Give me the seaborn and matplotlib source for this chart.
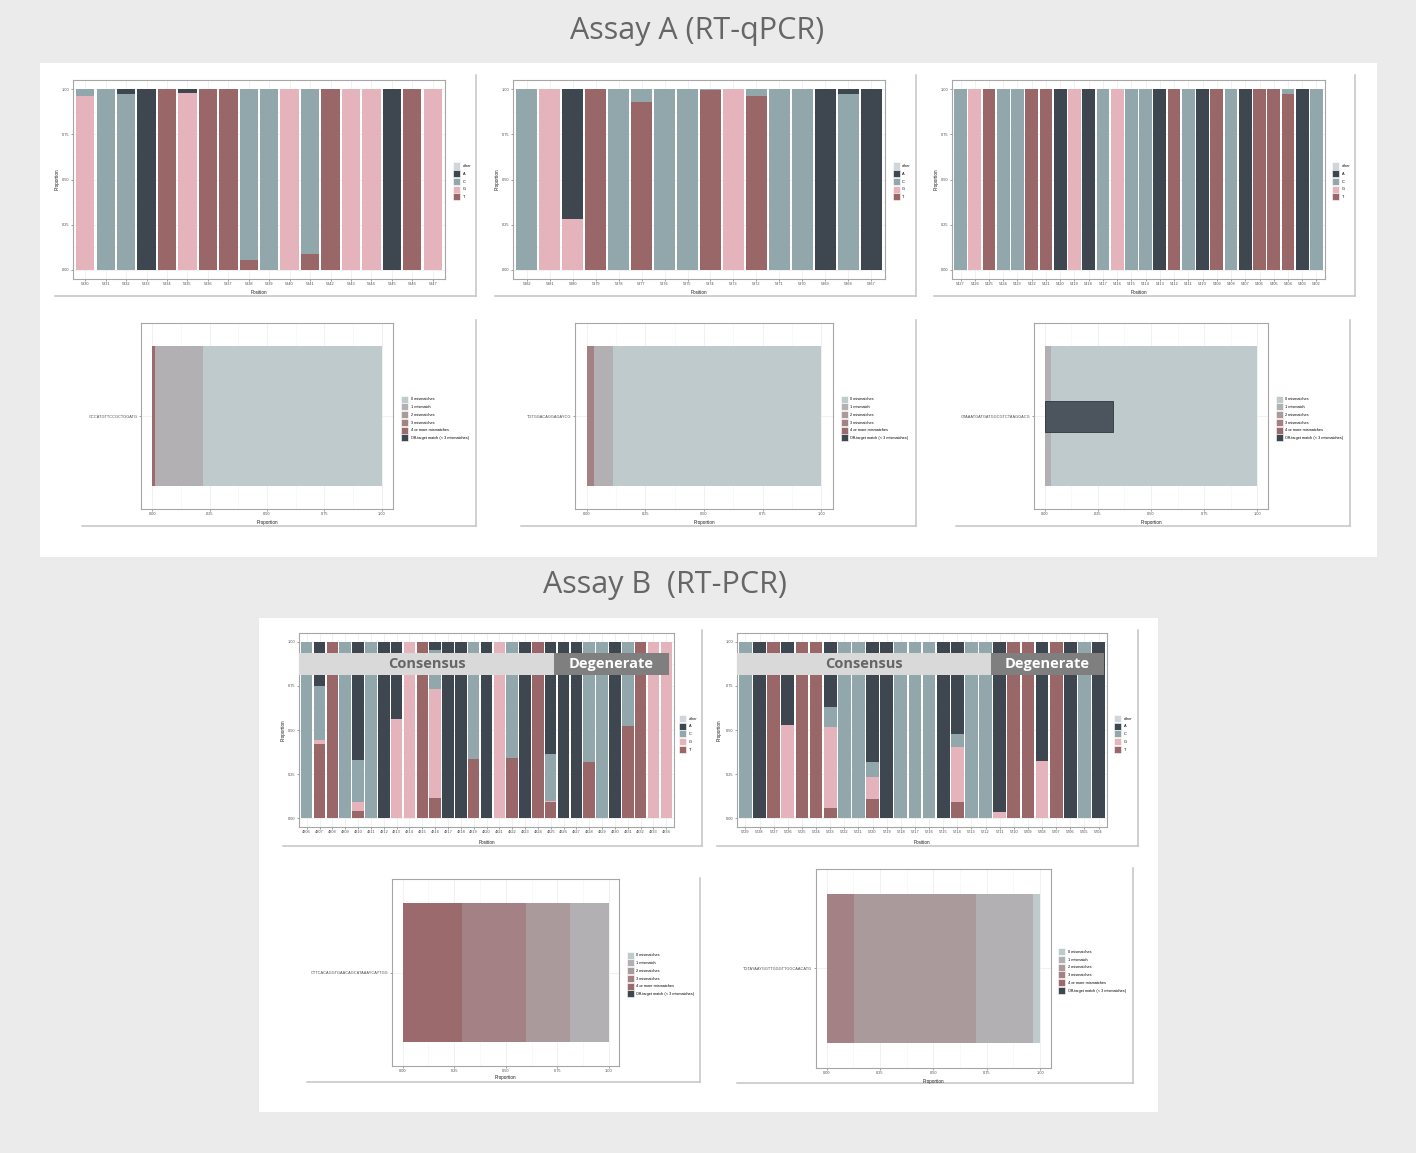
import matplotlib
matplotlib.use("Agg")
import matplotlib.pyplot as plt
from matplotlib.lines import Line2D
from matplotlib.patches import Patch, Rectangle
from matplotlib.ticker import FixedLocator
import numpy as np
import pandas as pd
import seaborn as sns

# ---------------- data ----------------
bases = ["other", "A", "C", "G", "T"]
base_colors = ["#d0d6da", "#3e4650", "#92a7ac", "#e4b3bc", "#9a6769"]

# Assay A, forward primer region
a1_pos = [str(p) for p in range(5330, 5348)]
a1_A = [0, 0, 0.03, 1, 0, 0.02, 0, 0, 0, 0, 0, 0, 0, 0, 0, 1, 0, 0]
a1_C = [0.04, 1, 0.97, 0, 0, 0, 0, 0, 0.945, 1, 0, 0.91, 0, 0, 0, 0, 0, 0]
a1_G = [0.96, 0, 0, 0, 0, 0.98, 0, 0, 0, 0, 1, 0, 0, 1, 1, 0, 0, 1]
a1_T = [0, 0, 0, 0, 1, 0, 1, 1, 0.055, 0, 0, 0.09, 1, 0, 0, 0, 1, 0]

# Assay A, reverse primer region
a2_pos = [str(p) for p in range(5382, 5366, -1)]
a2_A = [0, 0, 0.72, 0, 0, 0, 0, 0, 0, 0, 0, 0, 0, 1, 0.025, 1]
a2_C = [1, 0, 0, 0, 1, 0.07, 1, 1, 0.005, 0, 0.04, 1, 1, 0, 0.975, 0]
a2_G = [0, 1, 0.28, 0, 0, 0, 0, 0, 0, 1, 0, 0, 0, 0, 0, 0]
a2_T = [0, 0, 0, 1, 0, 0.93, 0, 0, 0.995, 0, 0.96, 0, 0, 0, 0, 0]

# Assay A, probe region
a3_pos = [str(p) for p in range(5427, 5401, -1)]
a3_A = [0, 0, 0, 0, 0, 0, 0, 1, 0, 1, 0, 0, 0, 0, 1, 0, 0, 1, 0, 0, 1, 0, 0, 0, 1, 0]
a3_C = [1, 0, 0, 1, 1, 0, 0, 0, 0, 0, 1, 0, 1, 1, 0, 0, 1, 0, 0, 1, 0, 0, 0, 0.025, 0, 1]
a3_G = [0, 1, 0, 0, 0, 0, 0, 0, 1, 0, 0, 1, 0, 0, 0, 0, 0, 0, 0, 0, 0, 0, 0, 0, 0, 0]
a3_T = [0, 0, 1, 0, 0, 1, 1, 0, 0, 0, 0, 0, 0, 0, 0, 1, 0, 0, 1, 0, 0, 1, 1, 0.975, 0, 0]

# Assay B, forward primer region
b1_pos = [str(p) for p in range(4806, 4835)]
b1_A = [0, .25, 0, 0, .67, 0, 1, .44, 0, 0, .045, 1, 1, 0, 1, 0, 0, 1, 0, .635, 1, 1, 0, 0, 1, 0, 0, 0, 0]
b1_C = [1, .305, 0, 1, .24, 1, 0, 0, 0, 0, .225, 0, 0, .665, 0, 0, .66, 0, 0, .265, 0, 0, .68, 1, 0, .48, 0, 0, 0]
b1_G = [0, .025, 0, 0, .05, 0, 0, .56, 1, 0, .615, 0, 0, 0, 0, 1, 0, 0, 0, .01, 0, 0, 0, 0, 0, 0, 0, 1, 1]
b1_T = [0, .42, 1, 0, .04, 0, 0, 0, 0, 1, .115, 0, 0, .335, 0, 0, .34, 0, 1, .09, 0, 0, .32, 0, 0, .52, 1, 0, 0]

# Assay B, reverse primer region
b2_pos = [str(p) for p in range(5729, 5703, -1)]
b2_A = [0, 1, 0, .47, 0, 0, .37, 0, 0, .68, 1, 0, 0, 0, 1, .525, 0, 0, .965, 0, 0, .675, 0, 1, 0, 1]
b2_C = [1, 0, 0, 0, 0, 0, .115, 1, 1, .085, 0, 1, 1, 1, 0, .07, 1, 1, 0, 0, 0, 0, 0, 0, 1, 0]
b2_G = [0, 0, 0, .53, 0, 0, .46, 0, 0, .125, 0, 0, 0, 0, 0, .315, 0, 0, .035, 0, 0, .325, 0, 0, 0, 0]
b2_T = [0, 0, 1, 0, 1, 1, .055, 0, 0, .11, 0, 0, 0, 0, 0, .09, 0, 0, 0, 1, 1, 0, 1, 0, 0, 0]

mm_levels = ["0 mismatches", "1 mismatch", "2 mismatches", "3 mismatches",
             "4 or more mismatches", "Off-target match (< 3 mismatches)"]
mm_colors = ["#bfcacd", "#b3b0b3", "#ab9a9b", "#a38184", "#9b6a6c", "#3e4650"]

a1_seq = "GCCATGTTCCGCTGGATG"
a1_mm = [0.78, 0.21, 0, 0, 0.01, 0]
a2_seq = "TGTGGACAGGAGAYCG"
a2_mm = [0.89, 0.08, 0, 0.03, 0, 0]
a3_seq = "GTAAATGATGATGGCGTCTAAGGACG"
a3_mm = [0.97, 0.03, 0, 0, 0, 0]
a3_offtarget = 0.32
b1_seq = "CTTCACAGGTGAACAGCATAAAYCAYTGG"
b1_mm = [0, 0.19, 0.21, 0.31, 0.29, 0]
b2_seq = "TGTAYAAYGGTTGGGTTGGCAACATG"
b2_mm = [0.035, 0.265, 0.57, 0.13, 0, 0]

# ---------------- layout helpers ----------------
W, H = 1416, 1153
plt.rcParams["font.family"] = ["Liberation Sans", "DejaVu Sans"]
fig = plt.figure(figsize=(W / 100, H / 100), dpi=100, facecolor="#ebebeb")

SMALL = 2.8
TICKC = "#4d4d4d"


def fx(x):
    return x / W


def fy(y):
    return 1 - y / H


def add_panel(x0, y0, x1, y1):
    ax = fig.add_axes([fx(x0), fy(y1), (x1 - x0) / W, (y1 - y0) / H])
    ax.set_facecolor("white")
    for s in ax.spines.values():
        s.set_color("#a6a6a6")
        s.set_linewidth(0.8)
    ax.tick_params(which="major", length=1.5, width=0.4, color="#555555",
                   labelsize=SMALL, labelcolor=TICKC, pad=1)
    ax.tick_params(which="minor", length=0)
    ax.set_axisbelow(True)
    return ax


def white_box(x0, y0, x1, y1):
    fig.add_artist(Rectangle((fx(x0), fy(y1)), (x1 - x0) / W, (y1 - y0) / H,
                             transform=fig.transFigure, facecolor="white",
                             edgecolor="none", zorder=-2))


def card(xr, ytop, ybot, xleft):
    kw = dict(transform=fig.transFigure, color="#c4c4c4", lw=1.1, zorder=-1)
    fig.add_artist(Line2D([fx(xr), fx(xr)], [fy(ytop), fy(ybot)], **kw))
    fig.add_artist(Line2D([fx(xleft), fx(xr)], [fy(ybot), fy(ybot)], **kw))


def legend(ax, labels, colors, x, y):
    handles = [Patch(facecolor=c, edgecolor="white", linewidth=0.4) for c in colors]
    ax.legend(handles, labels, loc="upper left", bbox_to_anchor=(fx(x), fy(y)),
              bbox_transform=fig.transFigure, frameon=False, fontsize=SMALL,
              handlelength=1.8, handleheight=2.4, labelspacing=0.18,
              handletextpad=0.7, borderpad=0, borderaxespad=0)


def base_panel(box, positions, A, C, G, T, leg_xy, ylab_x, xlab_y):
    ax = add_panel(*box)
    long = pd.concat([pd.DataFrame({"Position": positions, "Base": b, "Proportion": v})
                      for b, v in zip(bases, ([0] * len(positions), A, C, G, T))])
    long["Position"] = pd.Categorical(long["Position"], categories=positions)
    sns.histplot(data=long, x="Position", hue="Base", weights="Proportion",
                 hue_order=bases, palette=dict(zip(bases, base_colors)),
                 multiple="stack", discrete=True, shrink=0.9, alpha=1,
                 linewidth=0, legend=False, ax=ax)
    n = len(positions)
    ax.set_xlim(-0.6, n - 0.4)
    ax.set_ylim(-0.05, 1.05)
    ax.set_yticks([0, 0.25, 0.5, 0.75, 1])
    ax.set_yticklabels(["0.00", "0.25", "0.50", "0.75", "1.00"])
    ax.yaxis.set_minor_locator(FixedLocator([0.125, 0.375, 0.625, 0.875]))
    ax.grid(True, which="major", color="#ebebeb", lw=0.5)
    ax.grid(True, which="minor", axis="y", color="#f4f4f4", lw=0.4)
    ax.set_xlabel("")
    ax.set_ylabel("")
    x0, y0, x1, y1 = box
    fig.text(fx((x0 + x1) / 2), fy(xlab_y), "Position", ha="center", va="center",
             fontsize=3.3, color="#1a1a1a")
    fig.text(fx(ylab_x), fy((y0 + y1) / 2), "Proportion", ha="center", va="center",
             rotation=90, fontsize=3.3, color="#1a1a1a")
    legend(ax, bases, base_colors, *leg_xy)
    return ax


def mm_panel(box, seq, props, leg_xy, xlab_y, offtarget=None):
    ax = add_panel(*box)
    long = pd.DataFrame({"Sequence": seq, "Mismatch": mm_levels, "Proportion": props})
    sns.histplot(data=long, y="Sequence", hue="Mismatch", weights="Proportion",
                 hue_order=mm_levels, palette=dict(zip(mm_levels, mm_colors)),
                 multiple="stack", discrete=True, shrink=0.9, alpha=1,
                 linewidth=0, legend=False, ax=ax)
    if offtarget is not None:
        off = pd.DataFrame({"Sequence": [seq], "Proportion": [offtarget]})
        sns.histplot(data=off, y="Sequence", weights="Proportion", discrete=True,
                     shrink=0.2, color="#4c545e", alpha=1, edgecolor="#2e353d",
                     linewidth=0.6, ax=ax)
    ax.set_ylim(-0.6, 0.6)
    ax.set_xlim(-0.05, 1.05)
    ax.set_xticks([0, 0.25, 0.5, 0.75, 1])
    ax.set_xticklabels(["0.00", "0.25", "0.50", "0.75", "1.00"])
    ax.xaxis.set_minor_locator(FixedLocator([0.125, 0.375, 0.625, 0.875]))
    ax.grid(True, which="major", color="#ebebeb", lw=0.5)
    ax.grid(True, which="minor", axis="x", color="#f4f4f4", lw=0.4)
    ax.set_xlabel("")
    ax.set_ylabel("")
    x0, y0, x1, y1 = box
    fig.text(fx((x0 + x1) / 2), fy(xlab_y), "Proportion", ha="center", va="center",
             fontsize=3.3, color="#1a1a1a")
    legend(ax, mm_levels, mm_colors, *leg_xy)
    return ax


def banner(ax, split, right_end):
    # "Consensus" / "Degenerate" header band across the bars
    x_left = -0.6
    ax.add_patch(Rectangle((x_left, 0.813), split - x_left, 0.121, facecolor="#d9d9d9",
                           edgecolor="none", zorder=5))
    ax.add_patch(Rectangle((split, 0.813), right_end - split, 0.121, facecolor="#7f7f7f",
                           edgecolor="none", zorder=5))
    ax.text((x_left + split) / 2, 0.8735, "Consensus", ha="center", va="center",
            fontsize=10.5, fontweight="bold", color="#666666", zorder=6,
            family=["Open Sans", "DejaVu Sans"])
    ax.text((split + right_end) / 2, 0.8735, "Degenerate", ha="center", va="center",
            fontsize=10.5, fontweight="bold", color="white", zorder=6,
            family=["Open Sans", "DejaVu Sans"])


# ---------------- background ----------------
white_box(40, 63, 1377, 557)
white_box(259, 618, 1158, 1112)
fig.text(fx(697), fy(31), "Assay A (RT-qPCR)", ha="center", va="center",
         fontsize=22, color="#666666", family=["Open Sans", "DejaVu Sans"])
fig.text(fx(665), fy(585), "Assay B  (RT-PCR)", ha="center", va="center",
         fontsize=22, color="#666666", family=["Open Sans", "DejaVu Sans"])

# ---------------- Assay A ----------------
card(476, 75, 296, 55)
card(916, 75, 296, 495)
card(1355, 75, 296, 934)
base_panel((73, 80, 445, 279), a1_pos, a1_A, a1_C, a1_G, a1_T, (453, 162.5), 57, 293)
base_panel((513, 80, 885, 279), a2_pos, a2_A, a2_C, a2_G, a2_T, (892.5, 162.5), 497, 293)
base_panel((952, 80, 1325, 279), a3_pos, a3_A, a3_C, a3_G, a3_T, (1332, 162.5), 936, 293)

card(476, 320, 526, 82)
card(916, 320, 526, 521)
card(1350, 320, 526, 956)
mm_panel((141, 323, 393, 509), a1_seq, a1_mm, (401, 395.7), 522)
mm_panel((575, 323, 833, 509), a2_seq, a2_mm, (840.5, 395.7), 522)
mm_panel((1034, 323, 1268, 509), a3_seq, a3_mm, (1275.5, 395.7), 522, offtarget=a3_offtarget)

# ---------------- Assay B ----------------
card(702, 630, 846, 283)
card(1138, 630, 846, 717)
axb1 = base_panel((299, 633, 674, 827), b1_pos, b1_A, b1_C, b1_G, b1_T, (679.3, 715), 283, 842)
axb2 = base_panel((737, 633, 1107, 827), b2_pos, b2_A, b2_C, b2_G, b2_T, (1114.3, 715), 719, 842)
banner(axb1, 19.26, 28.2)
banner(axb2, 17.37, 25.4)

card(700, 878, 1082, 307)
card(1133, 868, 1083, 737)
mm_panel((392.3, 879.3, 619.3, 1065.7), b1_seq, b1_mm, (626.7, 951.7), 1077.5)
mm_panel((816, 869, 1050.7, 1067.7), b2_seq, b2_mm, (1058.3, 948.3), 1081)

fig.savefig("out.png", dpi=100, facecolor=fig.get_facecolor())
